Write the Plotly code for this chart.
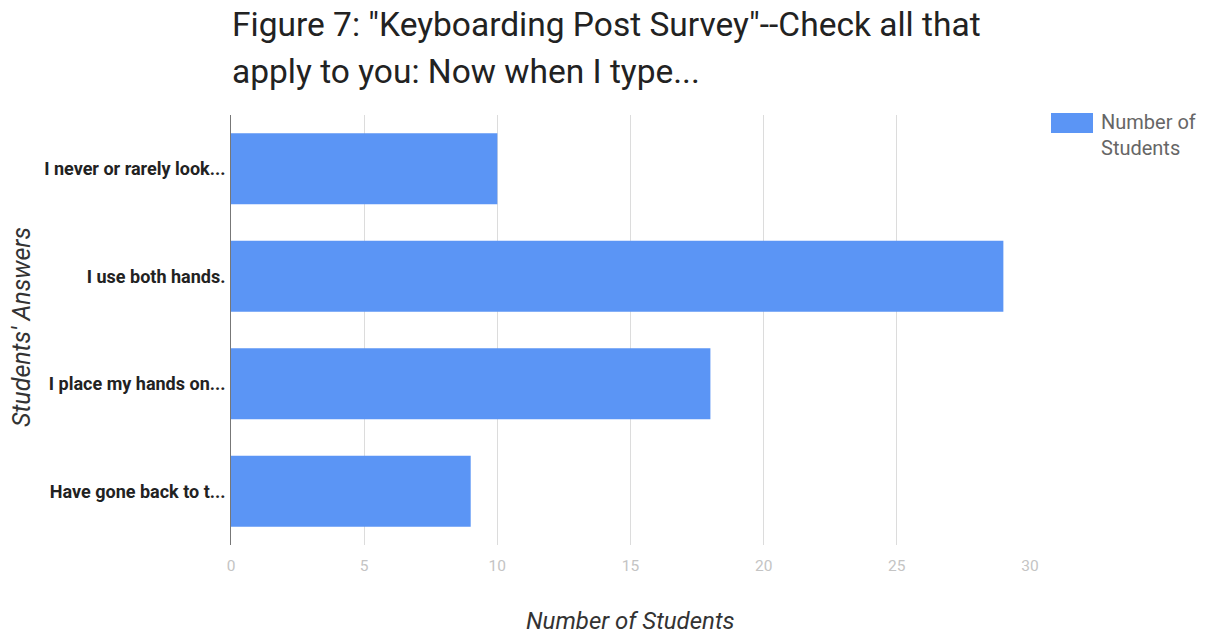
import plotly.graph_objects as go

# Survey answers (top to bottom) and the number of students choosing each
answers = [
    "I never or rarely look...",
    "I use both hands.",
    "I place my hands on...",
    "Have gone back to t...",
]
students = [10, 29, 18, 9]
x_ticks = [0, 5, 10, 15, 20, 25, 30]

series_name = "Number of Students"
bar_color = "#5B95F5"
font_family = "Roboto, Arial, sans-serif"

# Plot-area geometry in pixels (used to place the free-standing labels)
L, R, T, B = 231, 177, 115, 93
W, H = 1207, 638
PW, PH = W - L - R, H - T - B

fig = go.Figure(
    go.Bar(
        x=students,
        y=answers,
        orientation="h",
        marker=dict(color=bar_color, line=dict(width=0)),
        name=series_name,
        showlegend=False,
    )
)

fig.update_layout(
    width=W,
    height=H,
    margin=dict(l=L, r=R, t=T, b=B),
    paper_bgcolor="white",
    plot_bgcolor="white",
    bargap=0.34,
    font=dict(family=font_family),
)

fig.update_xaxes(
    range=[0, 30],
    tickvals=x_ticks,
    ticktext=[str(v) for v in x_ticks],
    showgrid=True,
    gridcolor="#dcdcdc",
    gridwidth=1,
    zeroline=False,
    showline=False,
    ticks="",
    tickfont=dict(size=15.5, color="#c4c4c4"),
    ticklabelstandoff=9,
)

fig.update_yaxes(
    categoryorder="array",
    categoryarray=list(reversed(answers)),
    tickvals=answers,
    ticktext=[f"<b>{a}</b>" for a in answers],
    showgrid=False,
    zeroline=False,
    showline=True,
    linecolor="#777777",
    linewidth=1,
    ticks="",
    tickfont=dict(size=18, color="#222222", family=font_family),
    ticklabelstandoff=1,
)

def px_x(px):
    return (px - L) / PW

def px_y(py):
    return 1 - (py - T) / PH

# Two-line title
title_lines = [
    'Figure 7: "Keyboarding Post Survey"--Check all that',
    "apply to you: Now when I type...",
]
for i, line in enumerate(title_lines):
    fig.add_annotation(
        text=line,
        xref="paper", yref="paper",
        x=px_x(230), xanchor="left",
        y=px_y(24 + i * 47), yanchor="middle",
        showarrow=False,
        font=dict(size=33.5, color="#222222", family=font_family),
    )

# Axis titles
fig.add_annotation(
    text="<i>Number of Students</i>",
    xref="paper", yref="paper",
    x=px_x(630), xanchor="center",
    y=px_y(621), yanchor="middle",
    showarrow=False,
    font=dict(size=24, color="#333333", family=font_family),
)
fig.add_annotation(
    text="<i>Students' Answers</i>",
    xref="paper", yref="paper",
    x=px_x(21), xanchor="center",
    y=px_y(327), yanchor="middle",
    textangle=-90,
    showarrow=False,
    font=dict(size=25, color="#333333", family=font_family),
)

# Legend swatch and label
fig.add_shape(
    type="rect",
    xref="paper", yref="paper",
    x0=px_x(1051), x1=px_x(1093),
    y0=px_y(133), y1=px_y(113),
    fillcolor=bar_color, line=dict(width=0),
)
fig.add_annotation(
    text="Number of<br>Students",
    xref="paper", yref="paper",
    x=px_x(1099), xanchor="left",
    y=px_y(108), yanchor="top",
    align="left",
    showarrow=False,
    font=dict(size=20, color="#666666", family=font_family),
)

fig.write_html("out.html")
